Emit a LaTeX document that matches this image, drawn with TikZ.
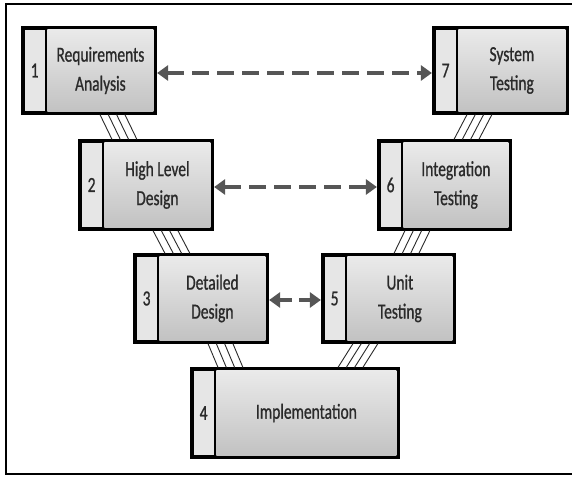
\documentclass[tikz,border=0pt]{standalone}
\usepackage{fontspec}
\setmainfont{Carlito}[FakeStretch=0.72, FakeBold=0.8]
\usetikzlibrary{arrows.meta,calc}

\definecolor{inkgray}{HTML}{2A2A2A}
\definecolor{arrowgray}{HTML}{565656}
\definecolor{tabfill}{HTML}{E6E6E6}
\definecolor{shadetop}{HTML}{EAEAEA}
\definecolor{shadebot}{HTML}{C2C2C2}

\tikzset{
  stagefont/.style={font=\fontsize{21.5}{29}\selectfont},
  bodybox/.style={top color=shadetop, bottom color=shadebot,
    inner sep=0pt, outer sep=0pt, align=center, text=inkgray, stagefont},
  tabbox/.style={fill=tabfill, inner sep=0pt, outer sep=0pt,
    minimum width=20pt, text=inkgray, stagefont},
  rim/.style={fill=black},
  hatch/.style={draw=inkgray, line width=0.9pt},
  dasharrow/.style={draw=arrowgray, line width=3.8pt, dash pattern=on 17pt off 8pt,
    {Triangle[length=11pt,width=15pt]}-{Triangle[length=11pt,width=15pt]},
    shorten <=0.5pt, shorten >=0.5pt},
  frameline/.style={draw=black, line width=2pt}
}

% \stagebox{name}{left}{top}{width}{height}{number}{label}
% a black slab with the number tab and the shaded body set into it
\newcommand\stagebox[7]{%
  \fill[rim] ({#2-1.6},{#3-1.6}) rectangle ({#2+#4+1.6},{#3+#5+1.6});
  \node[bodybox, minimum width={#4-26}, minimum height={#5-3.2}, anchor=north west]
    (#1) at ({#2+24.4},{#3+1.6}) {#7};
  \node[tabbox, minimum height={#5-3.2}, anchor=north west]
    (#1n) at ({#2+1.6},{#3+1.6}) {#6};
}

% four parallel strokes linking two stages
\newcommand\strokes[4]{% upper node, lower node, x offset on upper, x offset on lower
  \foreach \d in {0,8.3,16.6,24.9}
    \draw[hatch] ($(#1n.south west)+({#3+\d-1.6},3.2)$) -- ($(#2n.north west)+({#4+\d-1.6},-3.2)$);
}

\begin{document}
\begin{tikzpicture}[x=1pt,y=-1pt]
  \clip (0,0) rectangle (572,476);

  % outer frame
  \draw[frameline] (576,4) -- (6,4) -- (6,474) -- (576,474);

  % stages of the V
  \stagebox{s1}{23}{28}{132}{85}{1}{Requirements\\Analysis}
  \stagebox{s7}{434}{28}{133}{85}{7}{System\\Testing}
  \stagebox{s2}{80}{141}{132}{88}{2}{High Level\\Design}
  \stagebox{s6}{379}{141}{131}{88}{6}{Integration\\Testing}
  \stagebox{s3}{135}{255}{132}{87}{3}{Detailed\\Design}
  \stagebox{s5}{323}{255}{131}{87}{5}{Unit\\Testing}
  \stagebox{s4}{192}{369}{206}{88}{4}{Implementation}

  % links down the left arm
  \strokes{s1}{s2}{77}{32}
  \strokes{s2}{s3}{73}{30}
  \strokes{s3}{s4}{73}{26}
  % links up the right arm
  \strokes{s5}{s4}{30}{146}
  \strokes{s6}{s5}{26}{71}
  \strokes{s7}{s6}{33}{75}

  % verification pairs
  \draw[dasharrow] ([xshift=3.2pt,yshift=-2.5pt]s1.east) -- ([xshift=-3.2pt,yshift=-2.5pt]s7n.west);
  \draw[dasharrow] ([xshift=3.2pt,yshift=-2pt]s2.east) -- ([xshift=-3.2pt,yshift=-2pt]s6n.west);
  \draw[dasharrow, dash pattern=on 13pt off 7pt]
    ([xshift=3.2pt,yshift=-1.5pt]s3.east) -- ([xshift=-3.2pt,yshift=-1.5pt]s5n.west);
\end{tikzpicture}
\end{document}
